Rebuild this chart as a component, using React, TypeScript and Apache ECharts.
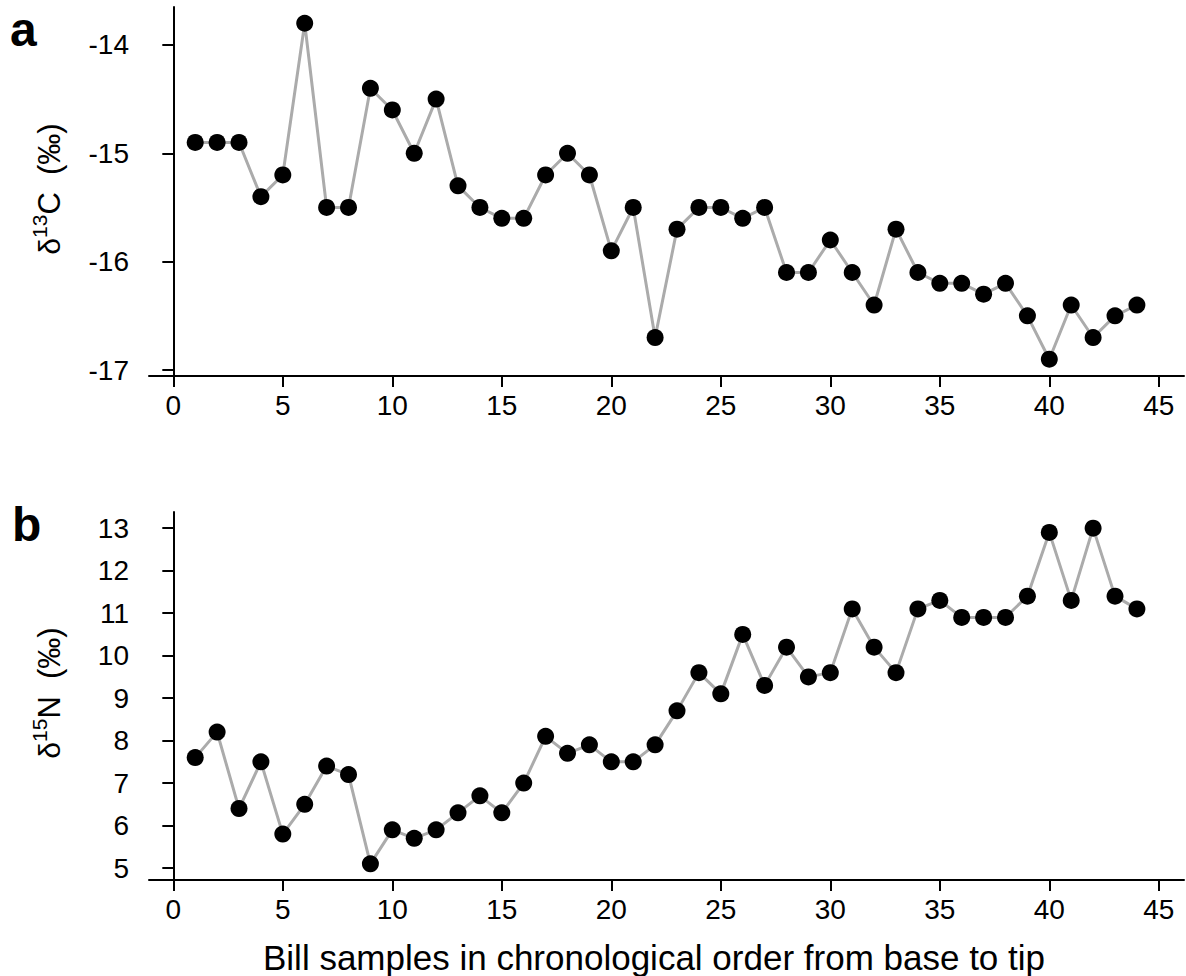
import React, { useEffect, useRef } from "react";
import * as echarts from "echarts";

const samples: number[] = Array.from({ length: 44 }, (_, i) => i + 1);
const d13C: number[] = [
  -14.9, -14.9, -14.9, -15.4, -15.2, -13.8, -15.5, -15.5, -14.4, -14.6,
  -15.0, -14.5, -15.3, -15.5, -15.6, -15.6, -15.2, -15.0, -15.2, -15.9,
  -15.5, -16.7, -15.7, -15.5, -15.5, -15.6, -15.5, -16.1, -16.1, -15.8,
  -16.1, -16.4, -15.7, -16.1, -16.2, -16.2, -16.3, -16.2, -16.5, -16.9,
  -16.4, -16.7, -16.5, -16.4,
];
const d15N: number[] = [
  7.6, 8.2, 6.4, 7.5, 5.8, 6.5, 7.4, 7.2, 5.1, 5.9,
  5.7, 5.9, 6.3, 6.7, 6.3, 7.0, 8.1, 7.7, 7.9, 7.5,
  7.5, 7.9, 8.7, 9.6, 9.1, 10.5, 9.3, 10.2, 9.5, 9.6,
  11.1, 10.2, 9.6, 11.1, 11.3, 10.9, 10.9, 10.9, 11.4, 12.9,
  11.3, 13.0, 11.4, 11.1,
];
const xTicks: number[] = [0, 5, 10, 15, 20, 25, 30, 35, 40, 45];
const cTicks: number[] = [-17, -16, -15, -14];
const nTicks: number[] = [5, 6, 7, 8, 9, 10, 11, 12, 13];

const FONT = "Liberation Sans, Arial, sans-serif";

export default function App() {
  const ref = useRef<HTMLDivElement>(null);
  useEffect(() => {
    if (!ref.current) return;
    const chart = echarts.init(ref.current, null, { renderer: "svg" });
    const axisLine = { show: true, lineStyle: { color: "#000", width: 2 } };
    const tickStyle = { color: "#000", width: 2 };
    const mkX = (gridIndex: number) => ({
      type: "value",
      gridIndex,
      min: -1.11,
      max: 46.15,
      axisLine,
      axisTick: { show: true, length: 11, lineStyle: tickStyle, customValues: xTicks },
      axisLabel: { color: "#000", fontSize: 28, fontFamily: FONT, margin: 15, customValues: xTicks },
      splitLine: { show: false },
    });
    const mkY = (gridIndex: number, min: number, max: number, ticks: number[]) => ({
      type: "value",
      gridIndex,
      min,
      max,
      axisLine,
      axisTick: { show: true, length: 11, lineStyle: tickStyle, customValues: ticks },
      axisLabel: { color: "#000", fontSize: 28, fontFamily: FONT, margin: 20, customValues: ticks },
      splitLine: { show: false },
    });
    const mkSeries = (idx: number, vals: number[]) => ({
      type: "line",
      xAxisIndex: idx,
      yAxisIndex: idx,
      data: samples.map((s, i) => [s, vals[i]]),
      symbol: "circle",
      symbolSize: 17,
      itemStyle: { color: "#000" },
      lineStyle: { color: "#ababab", width: 3 },
      z: 3,
    });
    const ytitle = (sup: string, el: string, y: number) => ({
      type: "text",
      x: 49,
      y,
      rotation: Math.PI / 2,
      style: {
        text: `{d|δ}{s|${sup}}{n|${el}  (‰)}`,
        align: "center",
        verticalAlign: "middle",
        fill: "#000",
        font: `30px ${FONT}`,
        rich: {
          d: { fontSize: 30, fontFamily: FONT, fill: "#000", lineHeight: 40, verticalAlign: "middle" },
          s: { fontSize: 21, fontFamily: FONT, fill: "#000", lineHeight: 21, verticalAlign: "top" },
          n: { fontSize: 31, fontFamily: FONT, fill: "#000", lineHeight: 40, verticalAlign: "middle" },
        },
      },
    });
    chart.setOption({
      animation: false,
      backgroundColor: "#fff",
      grid: [
        { left: 149, top: 7, width: 1035, height: 369, containLabel: false },
        { left: 149, top: 512, width: 1035, height: 368, containLabel: false },
      ],
      xAxis: [mkX(0), mkX(1)],
      yAxis: [mkY(0, -17.055, -13.65, cTicks), mkY(1, 4.72, 13.38, nTicks)],
      series: [mkSeries(0, d13C), mkSeries(1, d15N)],
      graphic: [
        { type: "text", left: 10, top: 5, style: { text: "a", font: `bold 48px ${FONT}`, fill: "#000" } },
        { type: "text", left: 12, top: 500, style: { text: "b", font: `bold 48px ${FONT}`, fill: "#000" } },
        ytitle("13", "C", 189),
        ytitle("15", "N", 693),
        {
          type: "text",
          x: 654,
          y: 957,
          style: {
            text: "Bill samples in chronological order from base to tip",
            font: `35px ${FONT}`,
            fill: "#000",
            align: "center",
            verticalAlign: "middle",
          },
        },
      ],
    });
    return () => chart.dispose();
  }, []);
  return (
    <div
      ref={ref}
      style={{ position: "fixed", left: 0, top: 0, width: 1186, height: 976, background: "#fff" }}
    />
  );
}
